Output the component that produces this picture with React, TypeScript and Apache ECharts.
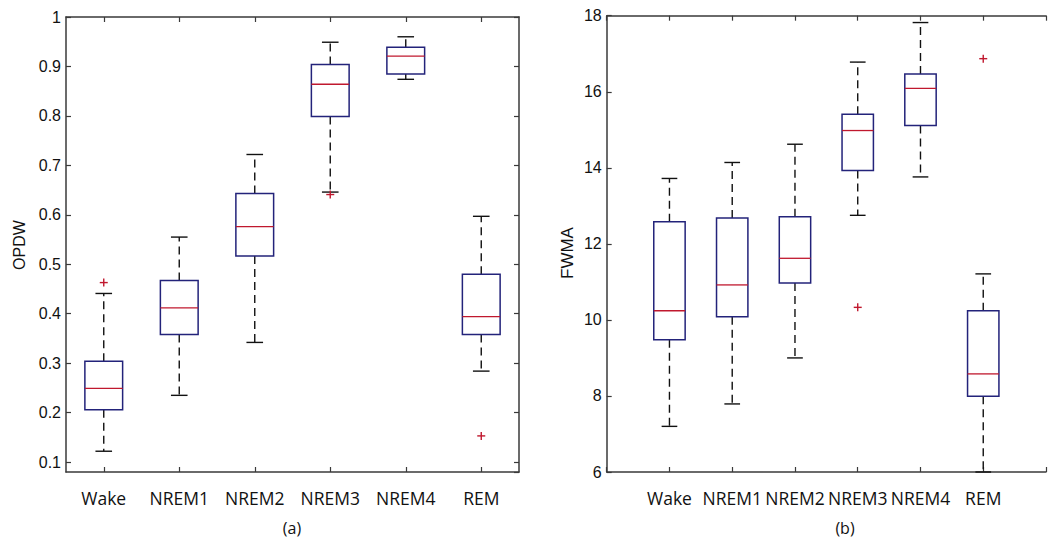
import React, { useEffect, useRef } from 'react';
import * as echarts from 'echarts';

const stages = ['Wake', 'NREM1', 'NREM2', 'NREM3', 'NREM4', 'REM'];

// each row: [lower whisker, Q1, median, Q3, upper whisker]
const opdwBoxes = [
  [0.122, 0.206, 0.249, 0.304, 0.441],
  [0.235, 0.358, 0.412, 0.467, 0.555],
  [0.342, 0.517, 0.576, 0.643, 0.722],
  [0.646, 0.799, 0.864, 0.904, 0.949],
  [0.874, 0.885, 0.921, 0.939, 0.960],
  [0.284, 0.358, 0.394, 0.480, 0.597],
];
// [stage index, value]
const opdwOutliers = [
  [0, 0.463],
  [3, 0.641],
  [5, 0.153],
];

const fwmaBoxes = [
  [7.2, 9.48, 10.24, 12.58, 13.72],
  [7.79, 10.08, 10.92, 12.68, 14.14],
  [9.0, 10.97, 11.62, 12.71, 14.62],
  [12.75, 13.93, 14.98, 15.41, 16.78],
  [13.76, 15.11, 16.09, 16.47, 17.82],
  [6.0, 7.99, 8.58, 10.24, 11.21],
];
const fwmaOutliers = [
  [3, 10.33],
  [5, 16.87],
];

const opdwTicks = ['0.1', '0.2', '0.3', '0.4', '0.5', '0.6', '0.7', '0.8', '0.9', '1'];
const fwmaTicks = ['6', '8', '10', '12', '14', '16', '18'];

const BOX_COLOR = '#23237a';
const MEDIAN_COLOR = '#c0182e';
const OUTLIER_COLOR = '#c0182e';
const AXIS_COLOR = '#3a3a3a';
const TICK_FONT = '"Liberation Sans", Arial, sans-serif';
const CAT_FONT = '"Open Sans", "Noto Sans", sans-serif';

function boxRenderer(capFrac: number) {
  return (params: any, api: any) => {
    const x = api.value(0);
    const lo = api.value(1);
    const q1 = api.value(2);
    const md = api.value(3);
    const q3 = api.value(4);
    const hi = api.value(5);
    const band = api.size([1, 0])[0];
    const half = band * 0.25;
    const cap = band * capFrac;
    const pLo = api.coord([x, lo]);
    const pQ1 = api.coord([x, q1]);
    const pMd = api.coord([x, md]);
    const pQ3 = api.coord([x, q3]);
    const pHi = api.coord([x, hi]);
    const cx = pMd[0];
    const dash = { stroke: '#111', lineWidth: 1.4, lineDash: [8, 5] };
    const solid = { stroke: '#111', lineWidth: 1.4 };
    return {
      type: 'group',
      children: [
        { type: 'line', shape: { x1: cx, y1: pQ3[1], x2: cx, y2: pHi[1] }, style: dash },
        { type: 'line', shape: { x1: cx, y1: pQ1[1], x2: cx, y2: pLo[1] }, style: dash },
        { type: 'line', shape: { x1: cx - cap, y1: pHi[1], x2: cx + cap, y2: pHi[1] }, style: solid },
        { type: 'line', shape: { x1: cx - cap, y1: pLo[1], x2: cx + cap, y2: pLo[1] }, style: solid },
        {
          type: 'rect',
          shape: { x: cx - half, y: pQ3[1], width: half * 2, height: pQ1[1] - pQ3[1] },
          style: { fill: 'rgba(0,0,0,0)', stroke: BOX_COLOR, lineWidth: 1.5 },
        },
        {
          type: 'line',
          shape: { x1: cx - half, y1: pMd[1], x2: cx + half, y2: pMd[1] },
          style: { stroke: MEDIAN_COLOR, lineWidth: 1.3 },
        },
      ],
    };
  };
}

function outlierRenderer(params: any, api: any) {
  const p = api.coord([api.value(0), api.value(1)]);
  const s = 4;
  const st = { stroke: OUTLIER_COLOR, lineWidth: 1.4 };
  return {
    type: 'group',
    children: [
      { type: 'line', shape: { x1: p[0] - s, y1: p[1], x2: p[0] + s, y2: p[1] }, style: st },
      { type: 'line', shape: { x1: p[0], y1: p[1] - s, x2: p[0], y2: p[1] + s }, style: st },
    ],
  };
}

export default function App() {
  const ref = useRef<HTMLDivElement>(null);

  useEffect(() => {
    if (!ref.current) return;
    const chart = echarts.init(ref.current, undefined, { renderer: 'svg' });

    const axisLine = { show: true, lineStyle: { color: AXIS_COLOR, width: 1.5 } };
    const tickIn = { show: true, inside: true, length: 5, lineStyle: { color: AXIS_COLOR, width: 1.2 } };

    const opdwSet = new Set(opdwTicks);
    const fwmaSet = new Set(fwmaTicks);

    const option: any = {
      animation: false,
      backgroundColor: '#ffffff',
      grid: [
        { left: 66, top: 17, width: 453, height: 455 },
        { left: 606.7, top: 15.7, width: 454.6, height: 456.3 },
      ],
      xAxis: [
        {
          gridIndex: 0,
          type: 'category',
          data: stages,
          boundaryGap: true,
          position: 'bottom',
          axisLine,
          axisTick: { ...tickIn, alignWithLabel: true, interval: 0 },
          axisLabel: { color: '#111', fontFamily: CAT_FONT, fontSize: 17.5, margin: 17, interval: 0 },
          splitLine: { show: false },
        },
        {
          gridIndex: 0,
          type: 'category',
          data: stages,
          boundaryGap: true,
          position: 'top',
          axisLine,
          axisTick: { ...tickIn, alignWithLabel: true, interval: 0 },
          axisLabel: { show: false, interval: 0 },
          splitLine: { show: false },
        },
        {
          gridIndex: 1,
          type: 'value',
          min: 0,
          max: 7,
          interval: 1,
          position: 'bottom',
          axisLine,
          axisTick: tickIn,
          axisLabel: {
            color: '#111',
            fontFamily: CAT_FONT,
            fontSize: 17.5,
            margin: 17,
            formatter: (v: number) => stages[Math.round(v) - 1] ?? '',
          },
          splitLine: { show: false },
        },
        {
          gridIndex: 1,
          type: 'value',
          min: 0,
          max: 7,
          interval: 1,
          position: 'top',
          axisLine,
          axisTick: tickIn,
          axisLabel: { show: false },
          splitLine: { show: false },
        },
      ],
      yAxis: [
        {
          gridIndex: 0,
          type: 'value',
          min: 0.08,
          max: 1,
          splitNumber: 9,
          position: 'left',
          axisLine,
          axisTick: tickIn,
          axisLabel: {
            color: '#111',
            fontFamily: TICK_FONT,
            fontSize: 16,
            margin: 5,
            showMinLabel: false,
            formatter: (v: number) => {
              const s = String(Math.round(v * 100) / 100);
              return opdwSet.has(s) ? s : '';
            },
          },
          splitLine: { show: false },
        },
        {
          gridIndex: 0,
          type: 'value',
          min: 0.08,
          max: 1,
          splitNumber: 9,
          position: 'right',
          axisLine,
          axisTick: tickIn,
          axisLabel: { show: false },
          splitLine: { show: false },
        },
        {
          gridIndex: 1,
          type: 'value',
          min: 6,
          max: 18,
          interval: 2,
          position: 'left',
          axisLine,
          axisTick: tickIn,
          axisLabel: {
            color: '#111',
            fontFamily: TICK_FONT,
            fontSize: 16,
            margin: 5,
            formatter: (v: number) => {
              const s = String(Math.round(v));
              return fwmaSet.has(s) ? s : '';
            },
          },
          splitLine: { show: false },
        },
      ],
      series: [
        {
          type: 'custom',
          xAxisIndex: 0,
          yAxisIndex: 0,
          renderItem: boxRenderer(0.11),
          data: opdwBoxes.map((b, i) => [i, ...b]),
          encode: { x: 0, y: [1, 2, 3, 4, 5] },
          silent: true,
        },
        {
          type: 'custom',
          xAxisIndex: 0,
          yAxisIndex: 0,
          renderItem: outlierRenderer,
          data: opdwOutliers,
          encode: { x: 0, y: 1 },
          silent: true,
        },
        {
          type: 'custom',
          xAxisIndex: 2,
          yAxisIndex: 2,
          renderItem: boxRenderer(0.125),
          data: fwmaBoxes.map((b, i) => [i + 1, ...b]),
          encode: { x: 0, y: [1, 2, 3, 4, 5] },
          silent: true,
        },
        {
          type: 'custom',
          xAxisIndex: 2,
          yAxisIndex: 2,
          renderItem: outlierRenderer,
          data: fwmaOutliers.map((o) => [o[0] + 1, o[1]]),
          encode: { x: 0, y: 1 },
          silent: true,
        },
      ],
      graphic: [
        {
          type: 'text',
          x: 19,
          y: 245,
          rotation: Math.PI / 2,
          style: {
            text: 'OPDW',
            fill: '#111',
            fontSize: 16,
            fontFamily: TICK_FONT,
            textAlign: 'center',
            textVerticalAlign: 'middle',
          },
        },
        {
          type: 'text',
          x: 567,
          y: 253,
          rotation: Math.PI / 2,
          style: {
            text: 'FWMA',
            fill: '#111',
            fontSize: 17,
            fontFamily: TICK_FONT,
            textAlign: 'center',
            textVerticalAlign: 'middle',
          },
        },
        {
          type: 'text',
          x: 292,
          y: 528,
          style: {
            text: '(a)',
            fill: '#111',
            fontSize: 16,
            fontFamily: CAT_FONT,
            textAlign: 'center',
            textVerticalAlign: 'middle',
          },
        },
        {
          type: 'text',
          x: 845,
          y: 528,
          style: {
            text: '(b)',
            fill: '#111',
            fontSize: 16,
            fontFamily: CAT_FONT,
            textAlign: 'center',
            textVerticalAlign: 'middle',
          },
        },
      ],
    };

    chart.setOption(option);
    return () => chart.dispose();
  }, []);

  return (
    <div
      ref={ref}
      style={{ position: 'absolute', left: 0, top: 0, width: 1049, height: 539, background: '#fff' }}
    />
  );
}
